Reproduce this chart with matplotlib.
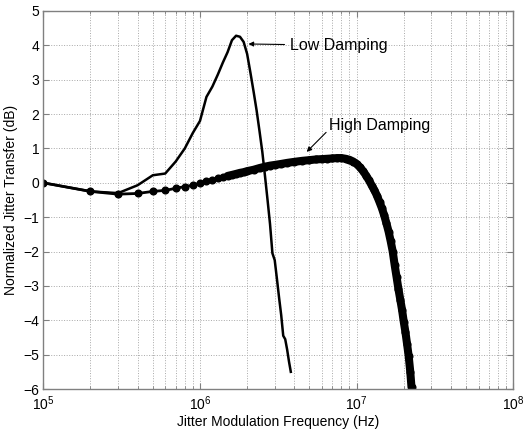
import matplotlib
matplotlib.use("Agg")
import matplotlib.pyplot as plt
import numpy as np

plt.rcParams["font.family"] = ["Liberation Sans", "DejaVu Sans"]
plt.rcParams["mathtext.fontset"] = "custom"
plt.rcParams["mathtext.rm"] = "Liberation Sans"

# Low damping measurement (frequency in MHz, transfer in dB)
low_freq_mhz = [0.1, 0.2, 0.3, 0.4, 0.5, 0.6, 0.7, 0.8, 0.9, 1.0,
                1.1, 1.2, 1.3, 1.4, 1.5, 1.6, 1.7, 1.8, 1.9, 2.0,
                2.1, 2.2, 2.3, 2.4, 2.5, 2.6, 2.7, 2.8, 2.9, 3.0,
                3.1, 3.2, 3.3, 3.4, 3.5, 3.6, 3.7, 3.8]
low_db = [0.0, -0.25, -0.30, -0.07, 0.22, 0.27, 0.62, 1.0, 1.45, 1.8,
          2.5, 2.8, 3.15, 3.5, 3.8, 4.15, 4.28, 4.25, 4.1, 3.75,
          3.2, 2.65, 2.1, 1.5, 0.9, 0.2, -0.5, -1.2, -2.05, -2.25,
          -2.8, -3.35, -3.85, -4.45, -4.55, -4.85, -5.2, -5.5]

# High damping measurement (frequency in MHz, transfer in dB)
high_freq_mhz = [0.1, 0.2, 0.3, 0.4, 0.5, 0.6, 0.7, 0.8, 0.9, 1.0,
                 1.1, 1.2, 1.3, 1.4, 1.5, 1.6, 1.7, 1.8, 1.9, 2.0,
                 2.2, 2.4, 2.6, 2.8, 3.0, 3.3, 3.6, 4.0, 4.5, 5.0,
                 5.5, 6.0, 6.5, 7.0, 7.5, 8.0, 8.5, 9.0, 9.5, 10.0,
                 10.5, 11.0, 11.5, 12.0, 12.5, 13.0, 13.5, 14.0, 14.5, 15.0,
                 15.5, 16.0, 16.5, 17.0, 17.5, 18.0, 18.5, 19.0, 19.5, 20.0,
                 20.5, 21.0, 21.5, 22.0, 22.4]
high_db = [0.0, -0.25, -0.33, -0.31, -0.25, -0.22, -0.16, -0.11, -0.07, -0.01,
           0.05, 0.09, 0.13, 0.17, 0.20, 0.23, 0.26, 0.29, 0.31, 0.34,
           0.38, 0.43, 0.47, 0.50, 0.52, 0.55, 0.58, 0.61, 0.64, 0.66,
           0.68, 0.69, 0.70, 0.71, 0.72, 0.72, 0.70, 0.67, 0.62, 0.55,
           0.45, 0.34, 0.21, 0.07, -0.08, -0.22, -0.38, -0.56, -0.74, -0.95,
           -1.18, -1.42, -1.70, -2.00, -2.40, -2.75, -3.10, -3.40, -3.70, -4.05,
           -4.35, -4.70, -5.05, -5.50, -5.95]

low_freq = np.array(low_freq_mhz) * 1e6
high_freq = np.array(high_freq_mhz) * 1e6

fig = plt.figure(figsize=(5.25, 4.29), dpi=100)
ax = fig.add_axes([0.0825, 0.0932, 0.8952, 0.8812])

ax.plot(low_freq, low_db, "-", color="black", lw=1.8)
ax.plot(high_freq, high_db, "-o", color="black", lw=2.0, ms=4.8)
# the measured points merge into a solid band above ~1.5 MHz
dense = high_freq >= 1.5e6
ax.plot(high_freq[dense], np.array(high_db)[dense], "-", color="black",
        lw=5.8, solid_capstyle="round")

ax.set_xscale("log")
ax.set_xlim(1e5, 1e8)
ax.set_ylim(-6, 5)
ax.set_yticks(range(-6, 6))

ax.grid(True, which="major", axis="both", linestyle=":", linewidth=0.7, color="#a8a8a8")
ax.grid(True, which="minor", axis="x", linestyle=":", linewidth=0.7, color="#a8a8a8")

ax.tick_params(which="both", direction="in", top=True, right=True,
               color="#808080", labelsize=10)
ax.tick_params(axis="x", pad=4)
ax.tick_params(axis="y", pad=3)
ax.tick_params(which="major", length=4)
ax.tick_params(which="minor", length=2)
for sp in ax.spines.values():
    sp.set_color("#808080")
    sp.set_linewidth(1.0)

ax.set_xlabel("Jitter Modulation Frequency (Hz)", fontsize=10, labelpad=1)
ax.set_ylabel("Normalized Jitter Transfer (dB)", fontsize=10, labelpad=4)

ax.annotate("Low Damping", xy=(2.04e6, 4.04), xytext=(3.76e6, 4.0),
            fontsize=11.5, va="center", ha="left",
            arrowprops=dict(arrowstyle="-|>", color="black", lw=0.8,
                            mutation_scale=7, shrinkA=2, shrinkB=0))
ax.annotate("High Damping", xy=(4.8e6, 0.9), xytext=(6.65e6, 1.68),
            fontsize=11.5, va="center", ha="left",
            arrowprops=dict(arrowstyle="-|>", color="black", lw=0.8,
                            mutation_scale=7, shrinkA=0, shrinkB=0,
                            relpos=(0.0, 0.2)))

fig.savefig("out.png", dpi=100)
